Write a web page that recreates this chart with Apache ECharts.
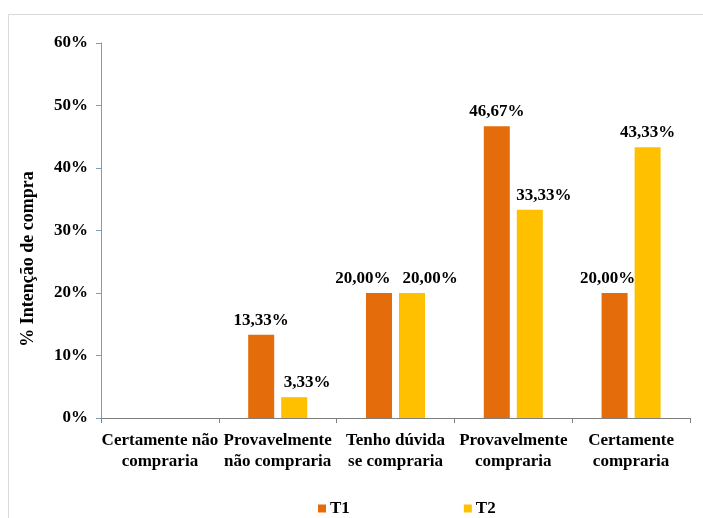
<!DOCTYPE html>
<html>
<head>
<meta charset="utf-8">
<script src="https://cdn.jsdelivr.net/npm/echarts@6/dist/echarts.min.js"></script>
<style>
  html, body { margin: 0; padding: 0; background: #fff; }
  #chart { width: 703px; height: 518px; }
</style>
</head>
<body>
<div id="chart"></div>
<script>
// Purchase intention by group (percent of respondents)
var categories = [
  'Certamente não\ncompraria',
  'Provavelmente\nnão compraria',
  'Tenho dúvida\nse compraria',
  'Provavelmente\ncompraria',
  'Certamente\ncompraria'
];
var seriesNames = ['T1', 'T2'];
var t1Values = [null, 13.33, 20.00, 46.67, 20.00];
var t2Values = [null, 3.33, 20.00, 33.33, 43.33];
var yTicks = [0, 10, 20, 30, 40, 50, 60];
var yAxisTitle = '% Intenção de compra';

var serif = '"Liberation Serif", "Times New Roman", serif';

// horizontal nudges keep neighbouring value labels from colliding
var labelShift = {
  T1: [0, 0, -16, 0, -7],
  T2: [0, 13, 18, 14, 0]
};

function pctLabel(p) {
  return p.value.toFixed(2).replace('.', ',') + '%';
}

function buildData(values, name) {
  return values.map(function (v, i) {
    return {
      value: v,
      label: { offset: [labelShift[name][i], 0] }
    };
  });
}

var valueLabel = {
  show: true, position: 'top', distance: 6,
  fontFamily: serif, fontWeight: 'bold', fontSize: 17, color: '#000',
  formatter: pctLabel
};

var chart = echarts.init(document.getElementById('chart'), null, { renderer: 'canvas' });

chart.setOption({
  backgroundColor: '#ffffff',
  animation: false,
  textStyle: { fontFamily: serif },
  graphic: [
    {
      type: 'rect',
      left: 6, top: 12,
      shape: { width: 740, height: 560 },
      style: { fill: 'none', stroke: '#d9d9d9', lineWidth: 1 },
      silent: true, z: -1
    },
    {
      type: 'text',
      x: 28, y: 259,
      rotation: Math.PI / 2,
      style: {
        text: yAxisTitle,
        fill: '#000',
        font: 'bold 18px ' + serif,
        textAlign: 'center',
        textVerticalAlign: 'middle'
      },
      silent: true
    }
  ],
  grid: { left: 101, right: 13, top: 43, bottom: 100, containLabel: false },
  legend: {
    data: seriesNames,
    top: 495,
    left: 313,
    itemWidth: 8, itemHeight: 8,
    itemGap: 114,
    icon: 'rect',
    textStyle: { fontFamily: serif, fontWeight: 'bold', fontSize: 17, color: '#000', padding: [0, 0, 0, -1] }
  },
  xAxis: {
    type: 'category',
    data: categories,
    axisLine: { lineStyle: { color: '#7f7f7f', width: 1 } },
    axisTick: { show: true, alignWithLabel: false, length: 5, lineStyle: { color: '#7f7f7f' } },
    axisLabel: {
      interval: 0, margin: 12, lineHeight: 21,
      fontFamily: serif, fontWeight: 'bold', fontSize: 17, color: '#000'
    }
  },
  yAxis: {
    type: 'value',
    min: yTicks[0], max: yTicks[yTicks.length - 1], interval: 10,
    axisLine: { show: true, lineStyle: { color: '#8597b8', width: 1 } },
    axisTick: { show: true, length: 5, lineStyle: { color: '#8597b8' } },
    splitLine: { show: false },
    axisLabel: {
      margin: 13,
      fontFamily: serif, fontWeight: 'bold', fontSize: 17, color: '#000',
      formatter: function (v) { return v + '%'; }
    }
  },
  series: [
    {
      name: seriesNames[0], type: 'bar', data: buildData(t1Values, 'T1'),
      barWidth: 26, barGap: '27%',
      itemStyle: { color: '#e46c0a' },
      label: valueLabel
    },
    {
      name: seriesNames[1], type: 'bar', data: buildData(t2Values, 'T2'),
      barWidth: 26,
      itemStyle: { color: '#ffc000' },
      label: valueLabel
    }
  ]
});
</script>
</body>
</html>
